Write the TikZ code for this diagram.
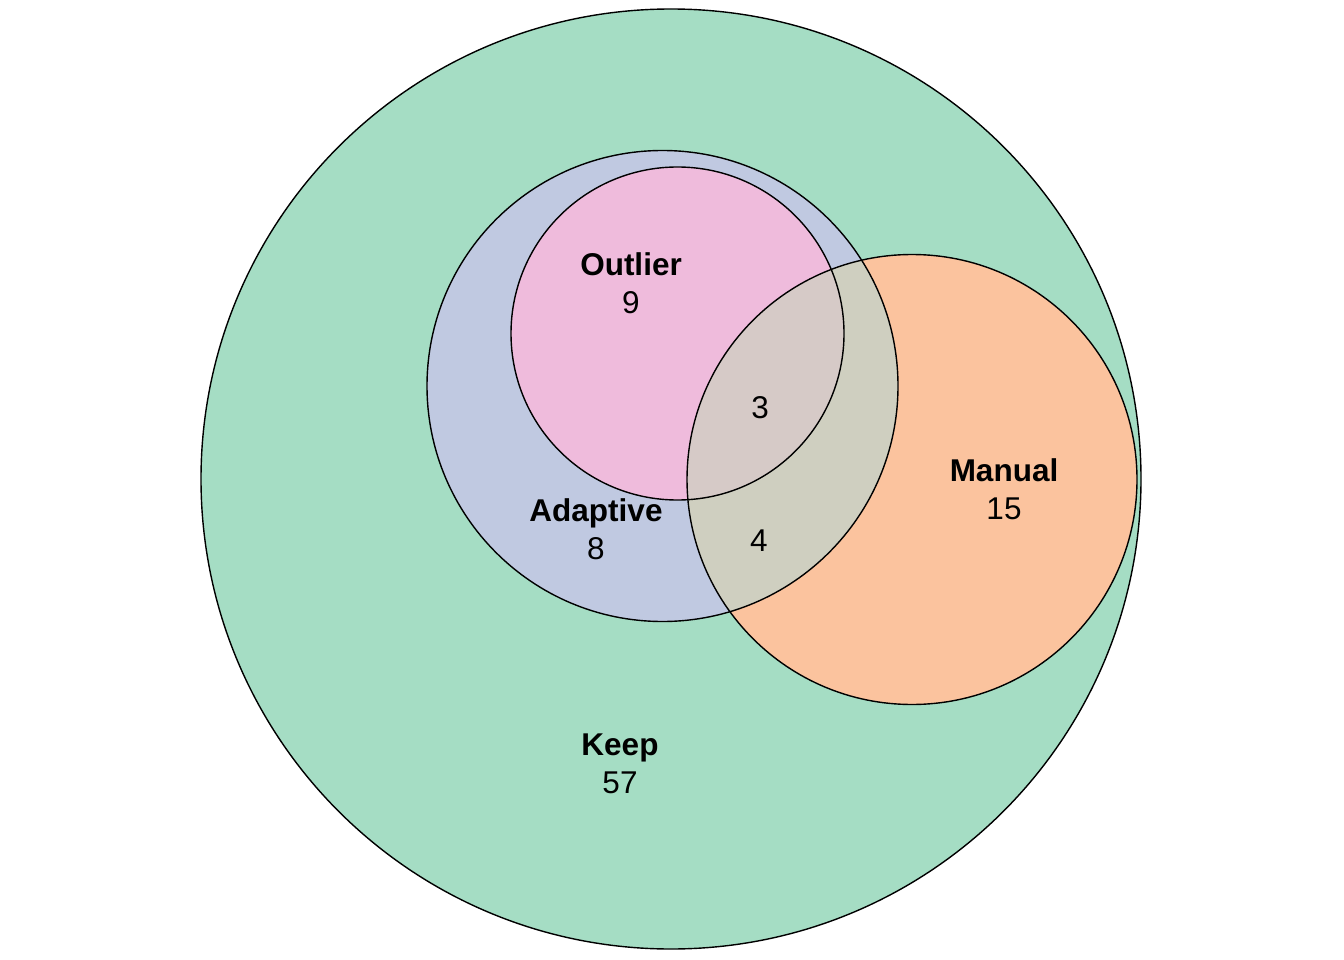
\documentclass[tikz,border=0pt]{standalone}
\usepackage{fontspec}
\setmainfont{Liberation Sans}
\definecolor{cKeep}{HTML}{A5DDC4}
\definecolor{cAdap}{HTML}{C0C9E1}
\definecolor{cOut}{HTML}{EFBBDC}
\definecolor{cMan}{HTML}{FBC39E}
\definecolor{cAM}{HTML}{CFCFC0}
\definecolor{cAOM}{HTML}{D6CAC7}
\begin{document}
\begin{tikzpicture}[x=1pt,y=-1pt,
  setline/.style={draw=black,line width=1.4pt},
  lbl/.style={font=\fontsize{31.5}{38}\selectfont,align=center,inner sep=0pt},
  num/.style={font=\fontsize{31.5}{38}\selectfont,inner sep=0pt}]
\useasboundingbox (0,0) rectangle (1344,960);
\def\Kc{(671,479) circle[radius=470]}
\def\Ac{(662.5,386) circle[radius=235.5]}
\def\Oc{(677.5,333.5) circle[radius=166.5]}
\def\Mc{(912,479.5) circle[radius=225]}
% region fills
\fill[cKeep] \Kc;
\fill[cAdap] \Ac;
\fill[cOut] \Oc;
\fill[cMan] \Mc;
\begin{scope}
  \clip \Mc;
  \fill[cAM] \Ac;
  \clip \Oc;
  \fill[cAOM] \Oc;
\end{scope}
% outlines
\draw[setline] \Kc;
\draw[setline] \Ac;
\draw[setline] \Oc;
\draw[setline] \Mc;
% labels
\node[lbl] (lOut) at (631,283) {\textbf{Outlier}\\9};
\node[lbl] (lAdap) at (596,529) {\textbf{Adaptive}\\8};
\node[lbl] (lMan) at (1004,489) {\textbf{Manual}\\15};
\node[lbl] (lKeep) at (620,764) {\textbf{Keep}\\57};
\node[num] (n3) at (760,408) {3};
\node[num] (n4) at (759,541) {4};
\end{tikzpicture}
\end{document}
